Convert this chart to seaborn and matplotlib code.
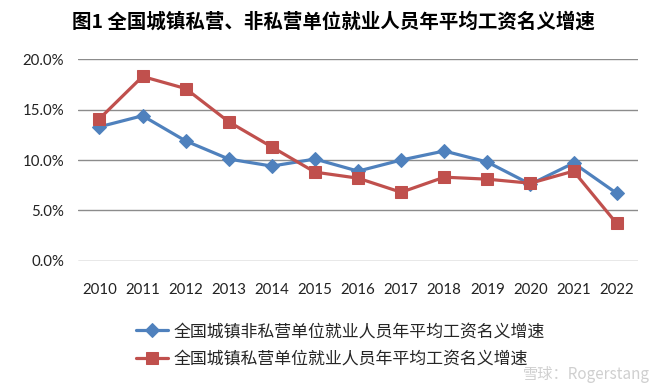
import matplotlib
matplotlib.use("Agg")
import matplotlib.pyplot as plt
import seaborn as sns
import pandas as pd
from matplotlib.ticker import PercentFormatter

# ─── Data ────────────────────────────────────────────────────────────────────
years = [2010, 2011, 2012, 2013, 2014, 2015, 2016, 2017, 2018, 2019, 2020, 2021, 2022]
non_private = [13.3, 14.4, 11.9, 10.1, 9.4, 10.1, 8.9, 10.0, 10.9, 9.8, 7.6, 9.7, 6.7]
private = [14.1, 18.3, 17.1, 13.8, 11.3, 8.8, 8.2, 6.8, 8.3, 8.1, 7.7, 8.9, 3.7]
label_non_private = "全国城镇非私营单位就业人员年平均工资名义增速"
label_private = "全国城镇私营单位就业人员年平均工资名义增速"
title = "图1 全国城镇私营、非私营单位就业人员年平均工资名义增速"
y_ticks = [0, 5, 10, 15, 20]

BLUE = "#4F81BD"
RED = "#C0504D"

sns.set_theme(style="white")
plt.rcParams["font.family"] = ["Noto Sans CJK SC", "DejaVu Sans"]

fig = plt.figure(figsize=(6.6, 3.88), dpi=100)
ax = fig.add_axes([0.118, 0.328, 0.849, 0.519])

df_np = pd.DataFrame({"year": years, "rate": non_private})
df_p = pd.DataFrame({"year": years, "rate": private})

sns.lineplot(data=df_np, x="year", y="rate", ax=ax, color=BLUE, lw=2.3,
             marker="D", markersize=7, markeredgecolor=BLUE, label=label_non_private)
sns.lineplot(data=df_p, x="year", y="rate", ax=ax, color=RED, lw=2.3,
             marker="s", markersize=8.5, markeredgecolor=RED, label=label_private)

# ── axes styling ──────────────────────────────────────────────────────────
ax.set_xlim(years[0] - 0.5, years[-1] + 0.5)
ax.set_ylim(0, 20)
ax.set_yticks(y_ticks)
ax.yaxis.set_major_formatter(PercentFormatter(decimals=1))
ax.set_xticks(years)
ax.set_xlabel("")
ax.set_ylabel("")
for s in ax.spines.values():
    s.set_visible(False)
ax.grid(axis="y", color="#8c8c8c", lw=1)
ax.grid(axis="x", visible=False)
ax.set_axisbelow(True)
ax.tick_params(axis="both", length=0, labelsize=10.8, colors="#222222")
ax.tick_params(axis="x", pad=16)
ax.tick_params(axis="y", pad=10)
for t in ax.get_xticklabels() + ax.get_yticklabels():
    t.set_family(["Lato", "DejaVu Sans"])

fig.text(0.505, 0.945, title, ha="center", va="center", fontsize=14,
         fontweight="bold", color="black")

handles, labels = ax.get_legend_handles_labels()
ax.legend_.remove()
fig.legend(handles, labels, loc="center left", bbox_to_anchor=(0.193, 0.111),
           frameon=False, fontsize=12.2, handlelength=1.9, handletextpad=0.3,
           labelspacing=0.55, borderpad=0)

# watermark, kept just below the legend rows
fig.text(0.985, 0.035, "雪球：Rogerstang", ha="right", va="center",
         fontsize=11, color="#c4c4c4", alpha=0.8)

fig.savefig("out.png", dpi=100)
plt.close(fig)
